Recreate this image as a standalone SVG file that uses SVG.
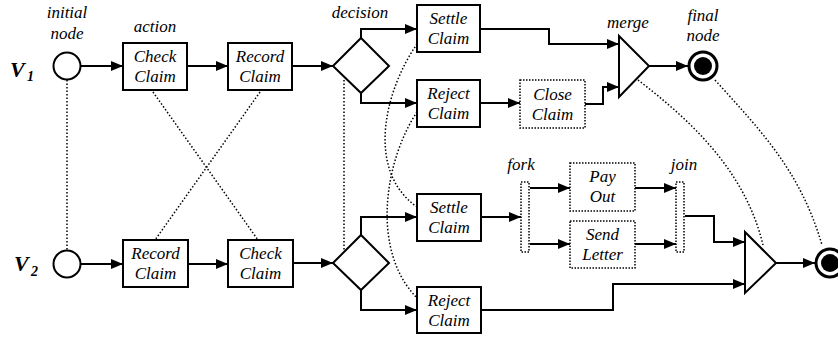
<svg xmlns="http://www.w3.org/2000/svg" width="838" height="338" viewBox="0 0 838 338" font-family="Liberation Serif, serif">
<style>
text{font-family:'Liberation Serif','Times New Roman',serif;font-style:italic;font-size:17px;fill:#000;text-anchor:middle}
.v{font-weight:bold;font-size:22px;text-anchor:start}
.vs{font-weight:bold;font-size:14px;text-anchor:start}
.box{fill:#fff;stroke:#000;stroke-width:2}
.dbox{fill:#fff;stroke:#000;stroke-width:1.5;stroke-dasharray:1.5 1.5}
.line{fill:none;stroke:#000;stroke-width:2}
.dot{fill:none;stroke:#000;stroke-width:1.5;stroke-dasharray:1.5 2}
</style>
<defs>
<marker id="ah" markerUnits="userSpaceOnUse" markerWidth="12" markerHeight="10" refX="12" refY="5" orient="auto">
<path d="M0,0 L12,5 L0,10 Z" fill="#000"/>
</marker>
</defs>
<g id="labels">
<text x="67" y="18">initial</text>
<text x="67" y="39">node</text>
<text x="155" y="32">action</text>
<text x="360" y="18">decision</text>
<text x="628" y="28">merge</text>
<text x="703" y="21">final</text>
<text x="703" y="41">node</text>
<text x="521" y="170">fork</text>
<text x="684" y="170">join</text>
<text class="v" x="10" y="77">V</text><text class="vs" x="27" y="81">1</text>
<text class="v" x="14" y="271">V</text><text class="vs" x="31" y="276">2</text>
</g>
<g id="connectors">
<path class="line" marker-end="url(#ah)" d="M81,66 H123"/>
<path class="line" marker-end="url(#ah)" d="M187,66 H228"/>
<path class="line" marker-end="url(#ah)" d="M292,66 H333"/>
<path class="line" marker-end="url(#ah)" d="M361,38 V29 H417"/>
<path class="line" marker-end="url(#ah)" d="M361,93 V103 H417"/>
<path class="line" marker-end="url(#ah)" d="M480,29 H549 V44 H619"/>
<path class="line" marker-end="url(#ah)" d="M480,103 H520"/>
<path class="line" marker-end="url(#ah)" d="M585,104 H603 V87 H619"/>
<path class="line" marker-end="url(#ah)" d="M649,66 H688"/>
<path class="line" marker-end="url(#ah)" d="M81,264 H123"/>
<path class="line" marker-end="url(#ah)" d="M188,264 H228"/>
<path class="line" marker-end="url(#ah)" d="M293,263 H333"/>
<path class="line" marker-end="url(#ah)" d="M361,235 V217 H417"/>
<path class="line" marker-end="url(#ah)" d="M361,290 V310 H417"/>
<path class="line" marker-end="url(#ah)" d="M481,217 H521"/>
<path class="line" marker-end="url(#ah)" d="M530,188 H570"/>
<path class="line" marker-end="url(#ah)" d="M530,244 H570"/>
<path class="line" marker-end="url(#ah)" d="M635,188 H676"/>
<path class="line" marker-end="url(#ah)" d="M635,244 H676"/>
<path class="line" marker-end="url(#ah)" d="M685,216 H714 V242 H745"/>
<path class="line" marker-end="url(#ah)" d="M481,310 H613 V284 H745"/>
<path class="line" marker-end="url(#ah)" d="M776,263 H815"/>
<path class="dot" d="M67,80 V250"/>
<path class="dot" d="M153,92 L258,240"/>
<path class="dot" d="M260,92 L155,240"/>
<path class="dot" d="M344,80 V250"/>
<path class="dot" d="M417,44 C385,90 365,170 417,207"/>
<path class="dot" d="M417,112 C385,160 370,250 417,298"/>
<path class="dot" d="M638,80 C690,120 745,170 763,245"/>
<path class="dot" d="M715,80 C760,130 800,170 822,245"/>
</g>
<g id="init1"><circle cx="67" cy="66" r="13.5" fill="#fff" stroke="#000" stroke-width="2"/></g>
<g id="init2"><circle cx="67" cy="264" r="13.5" fill="#fff" stroke="#000" stroke-width="2"/></g>
<g id="check1"><rect class="box" x="123" y="43" width="64" height="47"/><text x="155" y="62">Check</text><text x="155" y="82">Claim</text></g>
<g id="record1"><rect class="box" x="228" y="43" width="64" height="47"/><text x="260" y="62">Record</text><text x="260" y="82">Claim</text></g>
<g id="decision1"><polygon class="box" points="333,66 361,38 389,66 361,93"/></g>
<g id="settle1"><rect class="box" x="417" y="5" width="63" height="47"/><text x="448.5" y="24">Settle</text><text x="448.5" y="44">Claim</text></g>
<g id="reject1"><rect class="box" x="417" y="80" width="63" height="47"/><text x="448.5" y="99">Reject</text><text x="448.5" y="119">Claim</text></g>
<g id="close1"><rect class="dbox" x="520" y="80" width="65" height="48"/><text x="552.5" y="100">Close</text><text x="552.5" y="120">Claim</text></g>
<g id="merge1"><polygon class="box" points="619,36 649,66 619,97"/></g>
<g id="final1"><circle cx="703" cy="66" r="14" fill="#fff" stroke="#000" stroke-width="3"/><circle cx="703" cy="66" r="9" fill="#000"/></g>
<g id="record2"><rect class="box" x="123" y="240" width="65" height="47"/><text x="155.5" y="259">Record</text><text x="155.5" y="279">Claim</text></g>
<g id="check2"><rect class="box" x="228" y="240" width="65" height="47"/><text x="260.5" y="259">Check</text><text x="260.5" y="279">Claim</text></g>
<g id="decision2"><polygon class="box" points="333,263 361,235 389,263 361,290"/></g>
<g id="settle2"><rect class="box" x="417" y="194" width="64" height="47"/><text x="449" y="213">Settle</text><text x="449" y="233">Claim</text></g>
<g id="reject2"><rect class="box" x="417" y="287" width="64" height="46"/><text x="449" y="306">Reject</text><text x="449" y="326">Claim</text></g>
<g id="fork"><rect class="dbox" x="521" y="182" width="8" height="70"/></g>
<g id="payout"><rect class="dbox" x="570" y="163" width="65" height="48"/><text x="602.5" y="182">Pay</text><text x="602.5" y="202">Out</text></g>
<g id="sendletter"><rect class="dbox" x="570" y="221" width="65" height="47"/><text x="602.5" y="240">Send</text><text x="602.5" y="260">Letter</text></g>
<g id="join"><rect class="dbox" x="676" y="182" width="8" height="70"/></g>
<g id="merge2"><polygon class="box" points="745,232 776,263 745,293"/></g>
<g id="final2"><circle cx="830" cy="263" r="14" fill="#fff" stroke="#000" stroke-width="3"/><circle cx="830" cy="263" r="9" fill="#000"/></g>
</svg>
